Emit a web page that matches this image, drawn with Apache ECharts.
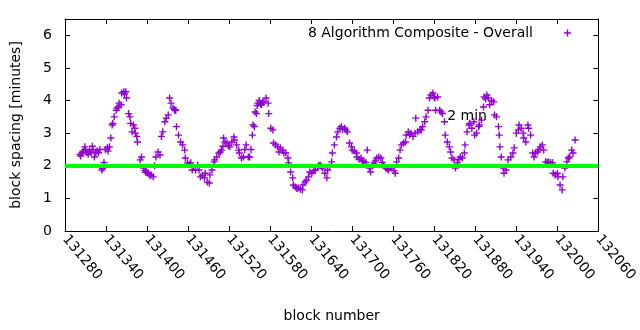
<!DOCTYPE html>
<html>
<head>
<meta charset="utf-8">
<script src="https://cdn.jsdelivr.net/npm/echarts@6/dist/echarts.min.js"></script>
<style>html,body{margin:0;padding:0;background:#fff}#c{width:640px;height:330px}</style>
</head>
<body>
<div id="c"></div>
<script>
const seriesName = '8 Algorithm Composite - Overall';
const xTickMin = 131280, xTickMax = 132060, xTickStep = 60;
const yTickMin = 0, yTickMax = 6.5, yTickStep = 1;
const targetMinutes = 2;
const targetLabel = '2 min';
const targetLabelAt = [131839, 3.5];

const blocks = [
131302,131303,131305,131307,131309,131310,131312,131314,131316,131318,131320,131321,131323,131325,131327,131329,131331,131334,131335,131337,
131339,131342,131343,131345,131347,131349,131350,131352,131355,131356,131358,131359,131362,131363,131366,131367,131369,131370,131373,131375,
131376,131378,131380,131382,131383,131385,131386,131390,131392,131395,131397,131398,131400,131402,131404,131406,131409,131411,131413,131416,
131419,131421,131423,131426,131428,131431,131433,131435,131438,131440,131441,131442,131443,131446,131449,131452,131455,131456,131459,131462,
131464,131466,131468,131471,131474,131476,131478,131481,131484,131485,131488,131491,131492,131495,131498,131499,131502,131505,131507,131509,
131511,131512,131514,131517,131519,131521,131524,131527,131528,131531,131534,131535,131538,131541,131543,131545,131548,131550,131552,131554,
131555,131557,131558,131560,131561,131562,131564,131566,131567,131569,131571,131574,131577,131578,131581,131584,131585,131588,131591,131593,
131595,131598,131600,131603,131606,131607,131610,131613,131614,131617,131619,131621,131624,131627,131628,131631,131633,131636,131638,131641,
131644,131646,131649,131651,131653,131655,131657,131660,131663,131664,131667,131670,131671,131674,131677,131679,131682,131684,131686,131689,
131691,131693,131696,131699,131700,131703,131706,131707,131710,131713,131715,131717,131720,131722,131725,131727,131730,131732,131734,131736,
131739,131742,131744,131746,131749,131751,131753,131756,131758,131761,131763,131765,131768,131770,131772,131775,131778,131779,131782,131784,
131786,131789,131792,131793,131796,131799,131801,131803,131806,131808,131811,131813,131815,131818,131820,131821,131822,131825,131828,131830,
131832,131835,131836,131839,131842,131844,131846,131849,131851,131854,131856,131858,131861,131864,131865,131868,131871,131872,131875,131878,
131879,131882,131885,131886,131889,131892,131893,131895,131897,131899,131901,131904,131907,131908,131911,131914,131915,131916,131918,131921,
131922,131925,131928,131932,131935,131937,131940,131943,131944,131947,131950,131951,131954,131957,131958,131961,131964,131966,131968,131971,
131973,131975,131978,131980,131983,131985,131987,131990,131993,131994,131997,132000,132001,132004,132007,132008,132011,132014,132016,132018,
132021,132023,132026
];
const spacing = [
2.35,2.30,2.40,2.45,2.58,2.50,2.40,2.35,2.45,2.40,2.60,2.50,2.27,2.40,2.45,2.40,2.50,1.87,1.92,2.10,
2.50,2.55,2.45,2.58,2.85,3.25,3.30,3.50,3.70,3.77,3.80,3.92,3.87,4.23,4.27,4.20,4.27,4.08,3.60,3.50,
3.30,3.04,3.25,3.15,3.00,2.90,2.73,2.18,2.27,1.93,1.85,1.80,1.80,1.77,1.70,1.72,1.66,2.00,2.27,2.42,
2.33,2.90,3.04,3.35,3.46,3.56,4.08,3.92,3.77,3.72,3.70,3.70,3.20,2.94,2.73,2.64,2.48,2.24,2.09,2.05,
2.09,1.87,1.95,1.87,2.02,1.87,1.66,1.70,1.63,1.77,1.50,1.47,1.72,1.87,2.12,2.18,2.27,2.39,2.42,2.48,
2.60,2.85,2.73,2.70,2.62,2.58,2.73,2.88,2.79,2.64,2.48,2.39,2.24,2.27,2.50,2.64,2.27,2.27,2.50,2.94,
3.25,3.20,3.65,3.60,3.85,3.92,4.00,3.90,3.87,3.95,3.96,4.08,3.92,3.60,3.15,3.10,2.70,2.64,2.58,2.42,
2.55,2.48,2.40,2.39,2.24,2.09,1.81,1.63,1.41,1.35,1.30,1.32,1.28,1.26,1.41,1.50,1.55,1.66,1.81,1.77,
1.85,1.87,1.96,2.00,2.02,1.98,1.93,1.77,1.63,1.87,1.96,2.12,2.39,2.64,2.88,3.04,3.15,3.20,3.12,3.15,
3.10,3.04,2.70,2.58,2.48,2.45,2.39,2.27,2.20,2.24,2.15,2.12,2.10,2.48,1.93,1.81,2.00,2.09,2.15,2.24,
2.27,2.24,2.10,2.02,1.93,1.90,1.87,1.95,1.93,1.85,1.77,2.12,2.24,2.48,2.64,2.70,2.73,2.94,3.04,2.95,
3.00,2.90,3.00,3.46,3.04,3.10,3.10,3.20,3.35,3.50,3.70,4.08,4.17,4.23,4.10,4.08,3.70,4.11,3.70,3.65,
3.60,3.35,2.94,2.73,2.58,2.42,2.24,2.18,1.93,2.09,2.20,2.27,2.24,2.39,2.64,3.04,3.25,3.30,3.15,3.35,
2.94,3.00,3.20,3.25,3.40,3.80,4.11,4.05,4.17,4.08,3.87,4.00,3.96,3.56,3.50,3.20,2.94,2.58,2.27,1.93,
1.77,1.87,2.18,2.27,2.39,2.55,3.00,3.10,3.25,3.15,3.00,2.85,2.73,3.25,3.15,2.94,2.39,2.27,2.39,2.42,
2.50,2.58,2.64,2.48,2.12,2.10,2.12,2.10,2.09,1.77,1.72,1.77,1.66,1.41,1.26,1.66,1.93,2.12,2.24,2.27,
2.48,2.39,2.79
];

const plusPath = 'path://M0,2.8L7,2.8L7,4.2L0,4.2Z M2.8,0L4.2,0L4.2,7L2.8,7Z';
const font = 'DejaVu Sans';
const purple = '#9400d3';

const chart = echarts.init(document.getElementById('c'), null, {renderer: 'canvas'});
const pts = blocks.map((b, i) => [b, spacing[i]]);

const xBase = {
  type: 'value', min: xTickMin, max: xTickMax, interval: xTickStep,
  splitLine: {show: false},
  axisLine: {show: true, onZero: false, lineStyle: {color: '#000', width: 1}},
  axisTick: {show: true, inside: true, length: 5, lineStyle: {color: '#000'}}
};
const yBase = {
  type: 'value', min: yTickMin, max: yTickMax, interval: yTickStep,
  splitLine: {show: false},
  axisLine: {show: true, onZero: false, lineStyle: {color: '#000', width: 1}},
  axisTick: {show: true, inside: true, length: 5, lineStyle: {color: '#000'}}
};

chart.setOption({
  animation: false,
  backgroundColor: '#fff',
  textStyle: {fontFamily: font},
  grid: {left: 65, right: 31, top: 19, bottom: 99, containLabel: false},
  legend: {
    data: [seriesName],
    right: 64, top: 21,
    align: 'right',
    itemWidth: 7, itemHeight: 7,
    itemGap: 0,
    icon: plusPath,
    textStyle: {fontFamily: font, fontSize: 14, color: '#000', padding: [0, 26, 0, 0]},
    itemStyle: {color: purple}
  },
  xAxis: [
    Object.assign({}, xBase, {
      position: 'bottom',
      name: 'block number', nameLocation: 'middle', nameGap: 78,
      nameTextStyle: {fontFamily: font, fontSize: 14, color: '#000'},
      axisLabel: {
        rotate: -50, margin: 6, fontFamily: font, fontSize: 14, color: '#000',
        showMinLabel: true, showMaxLabel: true,
        formatter: v => String(v)
      }
    }),
    Object.assign({}, xBase, {position: 'top', axisLabel: {show: false}})
  ],
  yAxis: [
    Object.assign({}, yBase, {
      position: 'left',
      name: 'block spacing [minutes]', nameLocation: 'middle', nameGap: 42,
      nameTextStyle: {fontFamily: font, fontSize: 14, color: '#000'},
      axisLabel: {
        margin: 13, fontFamily: font, fontSize: 14, color: '#000',
        formatter: v => (Number.isInteger(v) ? String(v) : '')
      }
    }),
    Object.assign({}, yBase, {position: 'right', axisLabel: {show: false}})
  ],
  series: [
    {
      name: seriesName,
      type: 'scatter',
      xAxisIndex: 0, yAxisIndex: 0,
      data: pts,
      symbol: plusPath,
      symbolSize: 7,
      itemStyle: {color: purple, opacity: 1},
      z: 2
    },
    {
      name: 'target',
      type: 'line',
      xAxisIndex: 0, yAxisIndex: 0,
      data: [],
      z: 5,
      markLine: {
        silent: true,
        symbol: ['none', 'none'],
        label: {show: false},
        lineStyle: {color: '#00ff00', width: 4, type: 'solid'},
        data: [{yAxis: targetMinutes}]
      },
      markPoint: {
        silent: true,
        symbol: 'circle',
        symbolSize: 0,
        label: {
          show: true, position: 'right', distance: 0,
          formatter: targetLabel,
          fontFamily: font, fontSize: 14, color: '#000'
        },
        data: [{coord: targetLabelAt, value: targetLabel}]
      }
    }
  ]
});
</script>
</body>
</html>
